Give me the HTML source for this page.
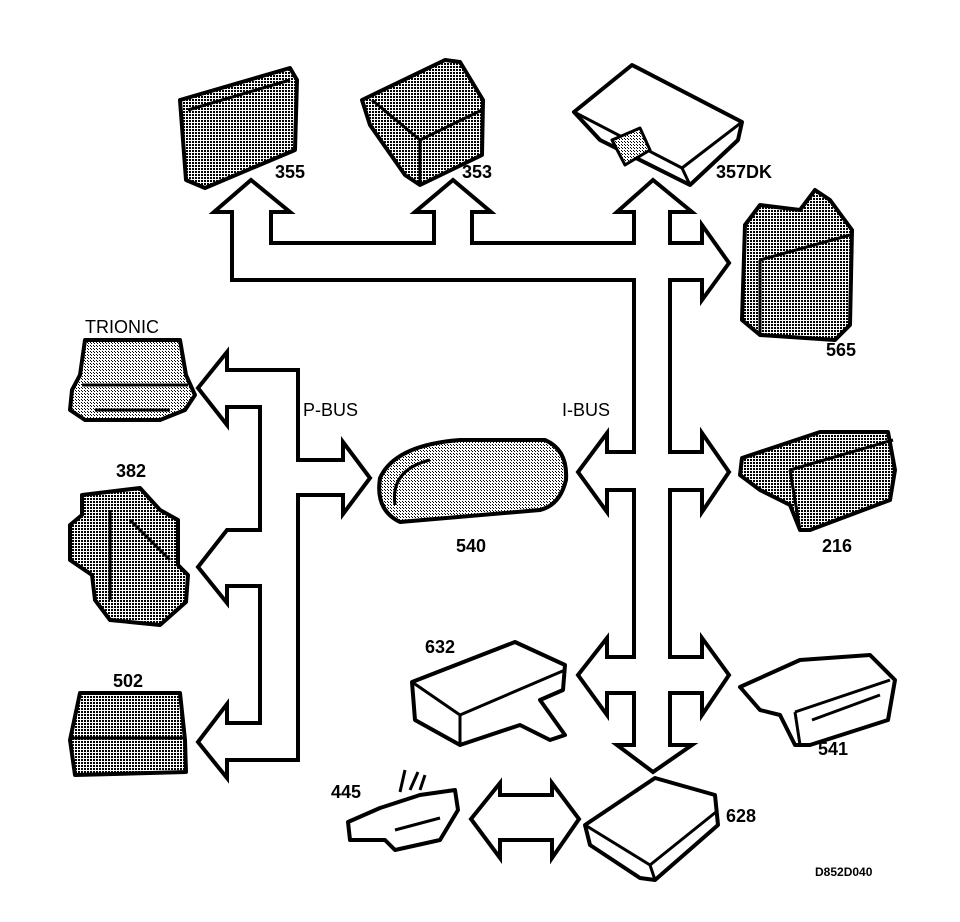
<!DOCTYPE html>
<html><head><meta charset="utf-8"><style>
html,body{margin:0;padding:0;background:#fff}
svg{display:block}
text{font-family:"Liberation Sans",Arial,sans-serif;fill:#000}
.b{font-weight:bold;font-size:18px}
.n{font-size:18px}
</style></head><body>
<svg width="960" height="922" viewBox="0 0 960 922" xmlns="http://www.w3.org/2000/svg">
<defs>
<pattern id="ht" width="3" height="3" patternUnits="userSpaceOnUse"><rect width="3" height="3" fill="#fff"/><rect width="2" height="2" fill="#000"/></pattern>
<pattern id="hl" width="3" height="3" patternUnits="userSpaceOnUse"><rect width="3" height="3" fill="#fff"/><rect width="1" height="1" fill="#000"/><rect x="1" y="1" width="1" height="1" fill="#000"/></pattern>
</defs>
<g fill="none" stroke="#000" stroke-width="4" stroke-linejoin="miter">
<path d="M271,243 V212 H290 L251,180 L214,212 H232 V280 H634 V452 H607 V433 L578,472 L607,512 V490 H634 V657 H607 V638 L578,675 L607,715 V693 H634 V745 H617 L653,772 L692,745 H670 V693 H702 V715 L729,675 L702,638 V657 H670 V490 H702 V512 L729,472 L702,433 V452 H670 V280 H702 V300 L729,263 L702,225 V243 H670 V212 H692 L653,180 L617,212 H634 V243 H472 V212 H491 L453,180 L415,212 H434 V243 Z"/>
<path d="M298,460 V370 H227 V352 L198,388 L227,425 V407 H260 V530 H227 L198,567 L227,603 V586 H260 V723 H227 V704 L198,742 L227,778 V760 H298 V495 H343 V514 L370,478 L343,442 V460 Z"/>
<path d="M500,795 V783 L471,819 L500,858 V840 H552 V858 L579,819 L552,783 V795 Z"/>
</g>
<g stroke="#000" stroke-width="4" stroke-linejoin="round">
<path d="M180,100 L290,68 L297,80 L295,150 L205,188 L186,180 Z" fill="url(#ht)"/>
<path d="M188,110 L290,80" stroke-width="3" fill="none"/>
<path d="M362,100 L445,60 L460,62 L483,100 L482,155 L420,185 L405,175 L370,125 Z" fill="url(#ht)"/>
<path d="M372,100 L420,140 L482,110 M420,140 L420,185" fill="none" stroke-width="3"/>
<path d="M574,112 L632,65 L742,122 L738,140 L690,185 L600,140 Z" fill="#fff"/>
<path d="M574,112 L682,168 L742,122 M682,168 L690,185" fill="none" stroke-width="3"/>
<path d="M612,140 L640,128 L650,150 L625,165 Z" fill="url(#hl)" stroke-width="3"/>
<path d="M745,225 L760,205 L800,210 L815,190 L830,200 L852,230 L850,325 L835,340 L760,335 L742,320 Z" fill="url(#ht)"/>
<path d="M760,260 L850,235 M760,260 L760,335" fill="none" stroke-width="3"/>
<path d="M85,340 L180,340 L186,375 L195,395 L185,410 L160,420 L85,420 L70,410 L72,390 L80,375 Z" fill="url(#hl)"/>
<path d="M82,385 L188,385 M95,410 L170,410" fill="none" stroke-width="3"/>
<path d="M82,495 L140,488 L160,510 L178,520 L178,565 L188,575 L186,602 L160,625 L110,620 L95,600 L92,575 L70,560 L70,525 L82,515 Z" fill="url(#ht)"/>
<path d="M110,510 L110,600 M130,520 L170,560" fill="none" stroke-width="3"/>
<path d="M80,693 L180,693 L185,740 L186,772 L75,775 L70,740 Z" fill="url(#ht)"/>
<path d="M72,738 L186,738" fill="none" stroke-width="3"/>
<path d="M380,478 Q395,445 460,440 L545,440 Q568,450 566,480 Q560,505 540,510 L400,522 Q375,510 380,478 Z" fill="url(#hl)"/>
<path d="M395,505 Q390,470 430,460" fill="none" stroke-width="3"/>
<path d="M742,458 L820,432 L888,432 L895,470 L890,500 L810,530 L800,530 L790,505 L760,490 L740,475 Z" fill="url(#ht)"/>
<path d="M790,470 L893,440 M790,470 L800,530" fill="none" stroke-width="3"/>
<path d="M412,682 L515,642 L565,665 L563,690 L540,700 L565,735 L550,740 L520,725 L460,745 L415,720 Z" fill="#fff"/>
<path d="M412,682 L460,715 L565,670 M460,715 L460,745" fill="none" stroke-width="3"/>
<path d="M740,687 L800,660 L870,655 L895,680 L888,720 L810,745 L795,745 L780,715 L760,710 Z" fill="#fff"/>
<path d="M795,712 L890,680 M795,712 L800,745 M812,720 L880,695" fill="none" stroke-width="3"/>
<path d="M348,822 L380,808 L420,795 L455,790 L458,810 L440,840 L395,850 L385,840 L350,840 Z" fill="#fff"/>
<path d="M400,792 L405,770 M410,790 L418,772 M420,790 L425,775" fill="none" stroke-width="3"/>
<path d="M395,830 L440,818" fill="none" stroke-width="3"/>
<path d="M585,825 L655,778 L715,795 L718,825 L655,880 L640,878 L590,845 Z" fill="#fff"/>
<path d="M585,825 L650,865 L716,812 M650,865 L655,880" fill="none" stroke-width="3"/>
</g>
<text class="b" x="275" y="178">355</text>
<text class="b" x="462" y="178">353</text>
<text class="b" x="716" y="178">357DK</text>
<text class="b" x="826" y="356">565</text>
<text class="n" x="85" y="333">TRIONIC</text>
<text class="b" x="116" y="477">382</text>
<text class="b" x="113" y="687">502</text>
<text class="n" x="303" y="416">P-BUS</text>
<text class="n" x="562" y="416">I-BUS</text>
<text class="b" x="456" y="552">540</text>
<text class="b" x="822" y="552">216</text>
<text class="b" x="425" y="653">632</text>
<text class="b" x="818" y="755">541</text>
<text class="b" x="331" y="798">445</text>
<text class="b" x="726" y="822">628</text>
<text x="815" y="876" style="font-size:12px;font-weight:bold">D852D040</text>
</svg>
</body></html>
